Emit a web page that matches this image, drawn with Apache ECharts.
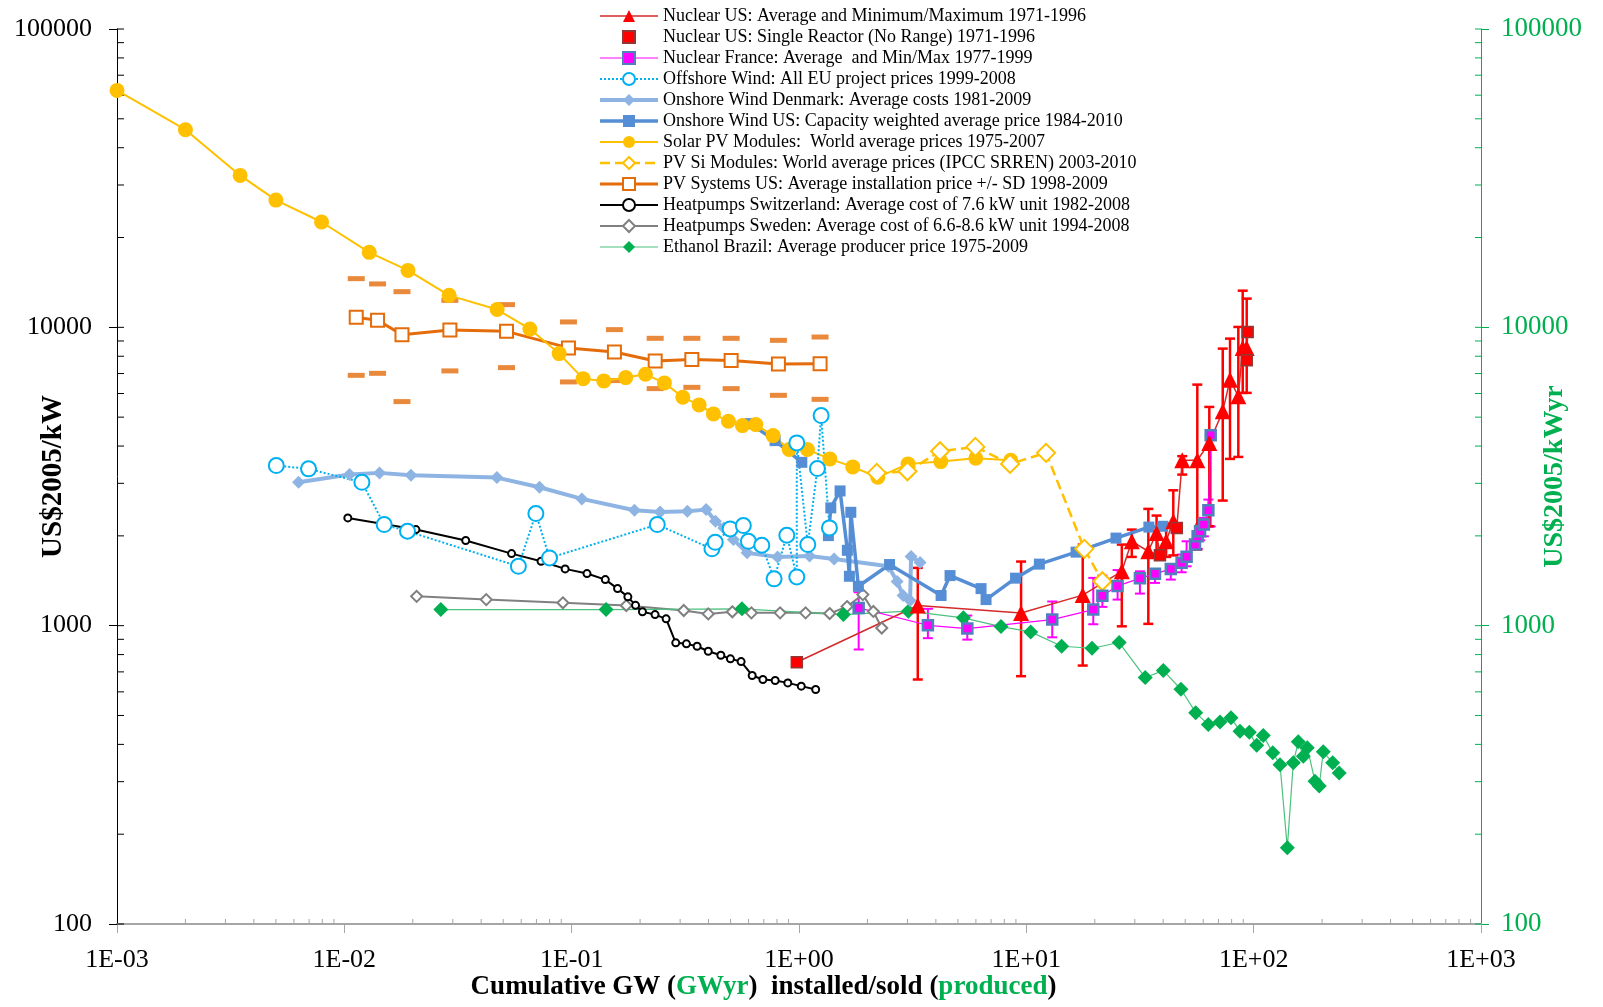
<!DOCTYPE html>
<html>
<head>
<meta charset="utf-8">
<title>Experience curves</title>
<script src="https://cdn.jsdelivr.net/npm/echarts@6.0.0/dist/echarts.min.js"></script>
<style>
  html, body { margin: 0; padding: 0; background: #fff; }
  #chart { width: 1603px; height: 1007px; }
</style>
</head>
<body>
<div id="chart"></div>
<script>
// cumulative GW (x) against US$2005/kW (y)

// Nuclear US average with min/max
const nucUsX   = [3.33, 9.48, 17.7, 26.3, 29.1, 34.4, 37.4, 41.2, 44.3, 48.5, 56.5, 63.8, 73.1, 78.7, 85.6, 89.5, 93.2];
const nucUsY   = [1168, 1102, 1266, 1521, 1918, 1776, 2046, 1918, 2238, 3584, 3584, 4099, 5230, 6675, 5873, 8531, 8531];
const nucUsMin = [660, 677, 735, 995, 1700, 1014, 1744, 1700, 1720, 3209, 1800, 2155, 2626, 3622, 3678, 6030, 6030];
const nucUsMax = [1562, 1640, 1870, 1870, 2099, 2463, 2339, 2200, 2843, 3700, 6427, 5410, 8485, 9166, 10030, 13270, 12480];

// Nuclear US single reactor years
const nucOneX = [0.978, 38.7, 45.9, 93.2, 94.1];
const nucOneY = [754, 1721, 2127, 7753, 9652];

// Nuclear France
const nucFrX   = [1.83, 3.69, 5.50, 13.0, 19.7, 21.6, 25.2, 31.6, 36.8, 43.2, 48.2, 50.7, 55.2, 56.7, 58.1, 60.4, 63.2, 64.7];
const nucFrY   = [1147, 1003, 978, 1048, 1132, 1259, 1359, 1441, 1492, 1550, 1624, 1701, 1870, 1993, 2072, 2182, 2436, 4346];
const nucFrMin = [832, 908, 898, 914, 1011, 1156, 1223, 1281, 1391, 1427, 1510, 1581, 1799, 1809, 1932, 1993, 2144, 2150];
const nucFrMax = [1294, 1139, 1081, 1205, 1446, 1472, 1536, 1521, 1542, 1603, 1731, 1918, 1918, 2046, 2182, 2297, 2646, 4472];

// Offshore wind EU projects
const offX = [0.00502, 0.00696, 0.01195, 0.01497, 0.01896, 0.0583, 0.0696, 0.0799, 0.238, 0.414, 0.428, 0.498,
              0.569, 0.599, 0.686, 0.777, 0.884, 0.978, 0.978, 1.093, 1.205, 1.251, 1.361];
const offY = [3440, 3354, 3024, 2182, 2072, 1581, 2375, 1687, 2182, 1809, 1903, 2110,
              2165, 1918, 1860, 1435, 2009, 1457, 4099, 1870, 3361, 5060, 2127];

// Onshore wind Denmark
const dkX = [0.00629, 0.01054, 0.01428, 0.01963, 0.0469, 0.0722, 0.1109, 0.1889, 0.2449, 0.3229, 0.3904, 0.4289,
             0.467, 0.5146, 0.5912, 0.805, 1.113, 1.427, 2.472, 2.701, 2.870, 3.081, 3.112, 3.409];
const dkY = [3024, 3209, 3252, 3192, 3136, 2910, 2660, 2436, 2406, 2417, 2449, 2238,
             2127, 1943, 1754, 1698, 1711, 1672, 1581, 1405, 1262, 1214, 1705, 1628];

// Onshore wind US (line breaks after the third point)
const usWindX = [0.6095, 0.785, 1.029, 1.347, 1.380, 1.516, 1.632, 1.666, 1.690, 1.825, 2.502, 4.217,
                 4.618, 6.321, 6.650, 8.965, 11.41, 16.55, 24.8, 34.6, 39.8];
const usWindY = [4756, 4172, 3528, 2004, 2482, 2829, 1789, 1464, 2399, 1355, 1603, 1262,
                 1472, 1331, 1223, 1443, 1608, 1764, 1966, 2140, 2154];
const usWindGapAfter = 2;

// Solar PV modules
const pvModX = [0.001, 0.002, 0.00348, 0.0050, 0.00794, 0.01287, 0.01905, 0.0289, 0.0470, 0.0655, 0.0881,
                0.1123, 0.1385, 0.173, 0.2112, 0.2559, 0.3083, 0.3637, 0.4204, 0.4893, 0.5638, 0.6457,
                0.769, 0.905, 1.089, 1.366, 1.724, 2.221, 3.018, 4.204, 5.992, 8.54];
const pvModY = [62250, 45970, 32300, 26700, 22550, 17840, 15520, 12800, 11470, 9877, 8165,
                6730, 6614, 6784, 6960, 6512, 5827, 5495, 5127, 4842, 4684, 4721,
                4336, 3893, 3893, 3622, 3406, 3143, 3485, 3548, 3639, 3584];

// PV Si modules (IPCC SRREN)
const pvSiX = [2.198, 3.0, 4.174, 5.966, 8.48, 12.21, 17.99, 21.6];
const pvSiY = [3251, 3291, 3842, 3974, 3485, 3796, 1809, 1409];

// PV systems US, mean and +/- SD
const pvSysX  = [0.01128, 0.014, 0.01793, 0.02913, 0.05168, 0.0968, 0.1542, 0.2330, 0.3378, 0.5029, 0.8117, 1.238];
const pvSysY  = [10800, 10556, 9452, 9802, 9696, 8531, 8272, 7717, 7795, 7735, 7541, 7557];
const pvSysHi = [14560, 13980, 13170, 12315, 11915, 10425, 9824, 9187, 9187, 9187, 9046, 9280];
const pvSysLo = [6904, 7012, 5637, 7144, 7328, 6561, 6629, 6231, 6293, 6231, 5917, 5737];

// Heatpumps Switzerland
const hpChX = [0.01036, 0.02065, 0.03419, 0.0544, 0.07334, 0.0936, 0.1168, 0.1406, 0.1592, 0.1767, 0.191,
               0.2048, 0.2327, 0.2603, 0.287, 0.3197, 0.3563, 0.3988, 0.4531, 0.4993, 0.5563, 0.6224,
               0.6937, 0.7857, 0.8928, 1.023, 1.184];
const hpChY = [2297, 2099, 1929, 1744, 1644, 1550, 1495, 1427, 1331, 1249, 1170,
               1113, 1089, 1054, 876, 869, 853, 821, 796, 774, 758, 681,
               660, 655, 643, 627, 611];

// Heatpumps Sweden
const hpSeX = [0.0208, 0.0421, 0.0915, 0.1739, 0.3112, 0.3988, 0.5089, 0.6175, 0.8259, 1.069, 1.364, 1.627, 1.909, 2.124, 2.312];
const hpSeY = [1254, 1223, 1193, 1168, 1124, 1095, 1113, 1104, 1104, 1104, 1098, 1159, 1271, 1116, 982];

// Ethanol Brazil (GWyr, US$2005/kWyr)
const ethX = [0.02657, 0.1417, 0.561, 1.568, 3.028, 5.284, 7.738, 10.45, 14.30, 19.45, 25.61, 33.34, 40.05,
              47.88, 55.6, 63.15, 71.1, 79.47, 87.07, 95.66, 103.1, 110.2, 121.3, 130.6, 140.6, 149.4,
              157.1, 165.3, 172.1, 186.1, 194.3, 202.3, 222.6, 237.8];
const ethY = [1132, 1132, 1139, 1089, 1118, 1062, 993, 953, 853, 840, 878, 670, 707,
              612, 511, 466, 475, 491, 443, 439, 397, 428, 375, 342, 180, 347,
              408, 365, 390, 301, 290, 378, 347, 321];

const legendNames = [
  'Nuclear US: Average and Minimum/Maximum 1971-1996',
  'Nuclear US: Single Reactor (No Range) 1971-1996',
  'Nuclear France: Average  and Min/Max 1977-1999',
  'Offshore Wind: All EU project prices 1999-2008',
  'Onshore Wind Denmark: Average costs 1981-2009',
  'Onshore Wind US: Capacity weighted average price 1984-2010',
  'Solar PV Modules:  World average prices 1975-2007',
  'PV Si Modules: World average prices (IPCC SRREN) 2003-2010',
  'PV Systems US: Average installation price +/- SD 1998-2009',
  'Heatpumps Switzerland: Average cost of 7.6 kW unit 1982-2008',
  'Heatpumps Sweden: Average cost of 6.6-8.6 kW unit 1994-2008',
  'Ethanol Brazil: Average producer price 1975-2009'
];

const serif = 'Liberation Serif';
const green = '#00B050';

const pairs = (xs, ys) => xs.map((x, i) => [x, ys[i]]);

// US nuclear line runs through the single-reactor years too
const nucLine = pairs(nucUsX, nucUsY).map(v => ({ value: v }))
  .concat(pairs(nucOneX, nucOneY).map(v => ({ value: v, symbol: 'none' })))
  .sort((a, b) => a.value[0] - b.value[0]);

const usWindData = pairs(usWindX, usWindY);
usWindData.splice(usWindGapAfter + 1, 0, ['-', '-']);

function errorBars(id, xs, lo, hi, color, width, cap) {
  return {
    type: 'custom', id: id, silent: true,
    data: xs.map((x, i) => [x, lo[i], hi[i]]),
    encode: { x: 0, y: [1, 2] },
    renderItem(params, api) {
      const x = api.value(0);
      const a = api.coord([x, api.value(1)]);
      const b = api.coord([x, api.value(2)]);
      const style = { stroke: color, lineWidth: width };
      return {
        type: 'group',
        children: [
          { type: 'line', shape: { x1: a[0], y1: a[1], x2: b[0], y2: b[1] }, style },
          { type: 'line', shape: { x1: a[0] - cap, y1: a[1], x2: a[0] + cap, y2: a[1] }, style },
          { type: 'line', shape: { x1: b[0] - cap, y1: b[1], x2: b[0] + cap, y2: b[1] }, style }
        ]
      };
    }
  };
}

// small inside ticks at 2..9 of each decade (plus inner half of y majors)
const xMinor = [];
for (let e = -3; e < 3; e++) for (let m = 2; m <= 9; m++) xMinor.push(m * Math.pow(10, e));
const yTicks = [100000];
for (let e = 2; e < 5; e++) for (let m = 1; m <= 9; m++) yTicks.push(m * Math.pow(10, e));

function tickSeries(id, values, toPoint, dx, dy, color) {
  return {
    type: 'custom', id: id, silent: true, z: 1,
    data: values.map(v => [v]),
    renderItem(params, api) {
      const p = api.coord(toPoint(api.value(0)));
      return {
        type: 'line',
        shape: { x1: p[0], y1: p[1], x2: p[0] + dx, y2: p[1] + dy },
        style: { stroke: color, lineWidth: 1 }
      };
    }
  };
}

const chart = echarts.init(document.getElementById('chart'));

const option = {
  animation: false,
  backgroundColor: '#fff',
  grid: { left: 117, right: 122, top: 29, bottom: 83, containLabel: false, outerBoundsMode: 'none' },
  legend: {
    data: legendNames,
    orient: 'vertical',
    left: 593,
    top: 2,
    itemWidth: 58,
    itemHeight: 15,
    itemGap: 3,
    lineStyle: { width: 'inherit' },
    textStyle: { fontFamily: serif, fontSize: 18, color: '#000', lineHeight: 18 }
  },
  xAxis: {
    type: 'log', logBase: 10, min: 0.001, max: 1000,
    name: '{b|Cumulative GW (}{g|GWyr}{b|)  installed/sold (}{g|produced}{b|)}',
    nameLocation: 'middle',
    nameGap: 50,
    nameMoveOverlap: false,
    nameTextStyle: {
      padding: [0, 71, 0, 0],
      rich: {
        b: { fontFamily: serif, fontSize: 27, fontWeight: 'bold', color: '#000' },
        g: { fontFamily: serif, fontSize: 27, fontWeight: 'bold', color: green }
      }
    },
    axisLine: { show: true, onZero: false, lineStyle: { color: '#A6A6A6', width: 2 } },
    axisTick: { show: true, length: 9, lineStyle: { color: '#A6A6A6' } },
    splitLine: { show: false },
    axisLabel: {
      margin: 23, fontFamily: serif, fontSize: 26, color: '#000',
      formatter: v => {
        const e = Math.round(Math.log10(v));
        return '1E' + (e < 0 ? '-' : '+') + String(Math.abs(e)).padStart(2, '0');
      }
    }
  },
  yAxis: [
    {
      type: 'log', logBase: 10, min: 100, max: 100000, position: 'left',
      name: 'US$2005/kW', nameLocation: 'middle', nameGap: 49, nameRotate: 90, nameMoveOverlap: false,
      nameTextStyle: { fontFamily: serif, fontSize: 29, fontWeight: 'bold', color: '#000' },
      axisLine: { show: true, lineStyle: { color: '#000', width: 1 } },
      axisTick: { show: true, length: 8, lineStyle: { color: '#000' } },
      splitLine: { show: false },
      axisLabel: { margin: 25, fontFamily: serif, fontSize: 26, color: '#000', formatter: v => String(Math.round(v)) }
    },
    {
      type: 'log', logBase: 10, min: 100, max: 100000, position: 'right',
      name: 'US$2005/kWyr', nameLocation: 'middle', nameGap: 60, nameRotate: 90, nameMoveOverlap: false,
      nameTextStyle: { fontFamily: serif, fontSize: 28, fontWeight: 'bold', color: green },
      axisLine: { show: true, lineStyle: { color: green, width: 1 } },
      axisTick: { show: true, length: 8, lineStyle: { color: green } },
      splitLine: { show: false },
      axisLabel: { margin: 20, fontFamily: serif, fontSize: 27, color: green, formatter: v => String(Math.round(v)) }
    }
  ],
  series: [
    tickSeries('xMinor', xMinor, v => [v, 100], 0, -5, '#A6A6A6'),
    tickSeries('yLeftTicks', yTicks, v => [0.001, v], 7, 0, '#000'),
    tickSeries('yRightTicks', yTicks, v => [1000, v], -6, 0, green),
    {
      name: legendNames[10], type: 'line', data: pairs(hpSeX, hpSeY),
      symbol: 'emptyDiamond', symbolSize: 11,
      lineStyle: { color: '#808080', width: 2 },
      itemStyle: { color: '#808080', borderWidth: 1.5 }
    },
    {
      name: legendNames[11], type: 'line', yAxisIndex: 1, data: pairs(ethX, ethY),
      symbol: 'diamond', symbolSize: 15,
      lineStyle: { color: '#4CC27E', width: 1.2 },
      itemStyle: { color: green }
    },
    {
      name: legendNames[9], type: 'line', data: pairs(hpChX, hpChY),
      symbol: 'emptyCircle', symbolSize: 7,
      lineStyle: { color: '#000', width: 2 },
      itemStyle: { color: '#000', borderWidth: 1.5 }
    },
    {
      name: legendNames[4], type: 'line', data: pairs(dkX, dkY),
      symbol: 'diamond', symbolSize: 13,
      lineStyle: { color: '#8EB4E3', width: 4 },
      itemStyle: { color: '#8EB4E3' }
    },
    {
      name: legendNames[5], type: 'line', data: usWindData, connectNulls: false,
      symbol: 'rect', symbolSize: 11,
      lineStyle: { color: '#558ED5', width: 3.5 },
      itemStyle: { color: '#558ED5' }
    },
    {
      type: 'scatter', id: 'pvSysSdHi', silent: true, data: pairs(pvSysX, pvSysHi),
      symbol: 'rect', symbolSize: [17, 5], itemStyle: { color: '#E46C0A' }
    },
    {
      type: 'scatter', id: 'pvSysSdLo', silent: true, data: pairs(pvSysX, pvSysLo),
      symbol: 'rect', symbolSize: [17, 5], itemStyle: { color: '#E46C0A' }
    },
    {
      name: legendNames[8], type: 'line', data: pairs(pvSysX, pvSysY),
      symbol: 'emptyRect', symbolSize: 13,
      lineStyle: { color: '#E46C0A', width: 3 },
      itemStyle: { color: '#E46C0A', borderWidth: 2 }
    },
    {
      name: legendNames[6], type: 'line', data: pairs(pvModX, pvModY),
      symbol: 'circle', symbolSize: 15,
      lineStyle: { color: '#FFC000', width: 2 },
      itemStyle: { color: '#FFC000' }
    },
    {
      name: legendNames[7], type: 'line', data: pairs(pvSiX, pvSiY),
      symbol: 'emptyDiamond', symbolSize: 18,
      lineStyle: { color: '#FFC000', width: 2.5, type: 'dashed' },
      itemStyle: { color: '#FFC000', borderWidth: 2 }
    },
    {
      name: legendNames[3], type: 'line', data: pairs(offX, offY),
      symbol: 'emptyCircle', symbolSize: 15,
      lineStyle: { color: '#00B0F0', width: 2, type: 'dotted' },
      itemStyle: { color: '#00B0F0', borderWidth: 2 }
    },
    errorBars('nucFrBars', nucFrX, nucFrMin, nucFrMax, '#FF00FF', 2, 5),
    {
      name: legendNames[2], type: 'line', data: pairs(nucFrX, nucFrY),
      symbol: 'rect', symbolSize: 10,
      lineStyle: { color: '#FF00FF', width: 1.2 },
      itemStyle: { color: '#FF00FF', borderColor: '#4F81BD', borderWidth: 2.5 }
    },
    errorBars('nucUsBars', nucUsX, nucUsMin, nucUsMax, '#FF0000', 2.5, 5),
    {
      name: legendNames[0], type: 'line', data: nucLine,
      symbol: 'triangle', symbolSize: 16,
      lineStyle: { color: '#D42A2A', width: 1.5 },
      itemStyle: { color: '#FF0000' }
    },
    {
      // markers only: drawn as a line series with an invisible line so the legend shows a small square
      name: legendNames[1], type: 'line', data: pairs(nucOneX, nucOneY),
      symbol: 'rect', symbolSize: 11,
      lineStyle: { opacity: 0, width: 0 },
      itemStyle: { color: '#FF0000', borderColor: '#943634', borderWidth: 1.5 }
    }
  ]
};

chart.setOption(option);
</script>
</body>
</html>
